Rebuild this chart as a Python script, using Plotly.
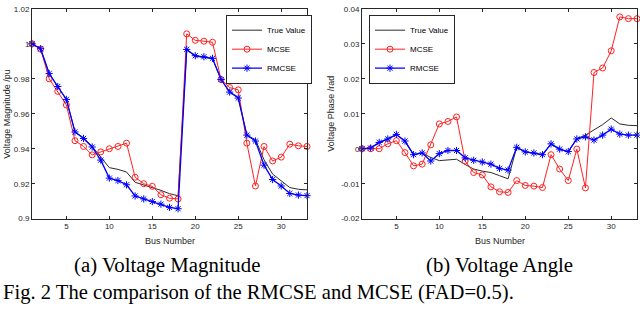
import plotly.graph_objects as go

# ---------------- data ----------------
bus = list(range(1, 34))

true_vm = [1.000, 0.9971, 0.9829, 0.9755, 0.9681, 0.9497, 0.9462, 0.9413, 0.9351, 0.9292,
           0.9282, 0.9267, 0.9208, 0.9193, 0.9178, 0.9162, 0.9143, 0.9131, 0.9965, 0.9929,
           0.9922, 0.9916, 0.9794, 0.9727, 0.9694, 0.9477, 0.9452, 0.9337, 0.9255, 0.9218,
           0.9178, 0.9168, 0.9165]
mcse_vm = [1.000, 0.9970, 0.9800, 0.9728, 0.9650, 0.9446, 0.9413, 0.9365, 0.9382, 0.9400,
           0.9413, 0.9432, 0.9237, 0.9200, 0.9185, 0.9137, 0.9117, 0.9113, 1.0057, 1.0020,
           1.0015, 1.0009, 0.9796, 0.9750, 0.9737, 0.9432, 0.9187, 0.9413, 0.9330, 0.9352,
           0.9426, 0.9417, 0.9413]
rmcse_vm = [1.000, 0.9972, 0.9830, 0.9756, 0.9682, 0.9496, 0.9459, 0.9410, 0.9335, 0.9232,
            0.9218, 0.9194, 0.9130, 0.9113, 0.9098, 0.9083, 0.9065, 0.9057, 0.9968, 0.9932,
            0.9926, 0.9917, 0.9796, 0.9724, 0.9690, 0.9478, 0.9444, 0.9306, 0.9224, 0.9187,
            0.9144, 0.9135, 0.9132]

true_va = [0.0, 0.0002, 0.0017, 0.0027, 0.0040, 0.0021, -0.0017, -0.0012, -0.0025, -0.0034,
           -0.0032, -0.0030, -0.0045, -0.0058, -0.0064, -0.0068, -0.0077, -0.0086, 0.0004, -0.0009,
           -0.0012, -0.0017, 0.0013, -0.0002, -0.0009, 0.0029, 0.0039, 0.0053, 0.0069, 0.0088,
           0.0071, 0.0067, 0.0066]
mcse_va = [0.0, 0.0000, 0.0000, 0.0014, 0.0023, -0.0011, -0.0049, -0.0044, 0.0011, 0.0071,
           0.0078, 0.0091, -0.0035, -0.0068, -0.0075, -0.0109, -0.0123, -0.0125, -0.0091, -0.0105,
           -0.0107, -0.0111, -0.0017, -0.0058, -0.0091, -0.0001, -0.0112, 0.0218, 0.0231, 0.0280,
           0.0377, 0.0372, 0.0372]
rmcse_va = [0.0, 0.0002, 0.0018, 0.0028, 0.0041, 0.0022, -0.0017, -0.0012, -0.0035, -0.0014,
            -0.0005, -0.0005, -0.0026, -0.0033, -0.0038, -0.0044, -0.0056, -0.0061, 0.0004, -0.0009,
            -0.0012, -0.0017, 0.0014, -0.0001, -0.0008, 0.0028, 0.0034, 0.0025, 0.0039, 0.0056,
            0.0042, 0.0039, 0.0039]

x_ticks = [5, 10, 15, 20, 25, 30]
vm_ticks = [0.90, 0.92, 0.94, 0.96, 0.98, 1.00, 1.02]
vm_ticktext = ["0.9", "0.92", "0.94", "0.96", "0.98", "1", "1.02"]
va_ticks = [-0.02, -0.01, 0.0, 0.01, 0.02, 0.03, 0.04]
va_ticktext = ["-0.02", "-0.01", "0", "0.01", "0.02", "0.03", "0.04"]

series_names = ["True Value", "MCSE", "RMCSE"]

# ---------------- figure ----------------
W, H = 640, 315
SANS = "Liberation Sans, Arial, sans-serif"
SERIF = "Liberation Serif, Times New Roman, serif"
AX = "#262626"

fig = go.Figure()


def add_series(xa, ya, legend, ys):
    styles = [
        dict(mode="lines", line=dict(color="#2b2b2b", width=1)),
        dict(mode="lines+markers", line=dict(color="#ff2020", width=1),
             marker=dict(symbol="circle-open", size=6, color="#ff2020",
                         line=dict(color="#ff2020", width=1))),
        dict(mode="lines+markers", line=dict(color="#0000ff", width=1.3),
             marker=dict(symbol="asterisk-open", size=6, color="#0000ff",
                         line=dict(color="#0000ff", width=1))),
    ]
    for name, y, st in zip(series_names, ys, styles):
        fig.add_trace(go.Scatter(x=bus, y=y, name=name, xaxis=xa, yaxis=ya,
                                 legend=legend, cliponaxis=False, **st))


add_series("x", "y", "legend", [true_vm, mcse_vm, rmcse_vm])
add_series("x2", "y2", "legend2", [true_va, mcse_va, rmcse_va])

top = 1 - 5 / H
bot = 1 - 221 / H

common_axis = dict(showline=True, linecolor=AX, linewidth=1, mirror="ticks",
                   ticks="inside", ticklen=3, tickcolor=AX, showgrid=False,
                   zeroline=False, tickfont=dict(family=SANS, size=8, color=AX))

legend_common = dict(xanchor="left", yanchor="top", bgcolor="white",
                     bordercolor=AX, borderwidth=1,
                     font=dict(family=SANS, size=8, color="black"),
                     itemwidth=30, tracegroupgap=0)

fig.update_layout(
    width=W, height=H,
    margin=dict(l=0, r=0, t=0, b=0),
    paper_bgcolor="white", plot_bgcolor="white",
    font=dict(family=SANS, color=AX),
    xaxis=dict(domain=[32 / W, 307 / W], range=[1, 33], tickvals=x_ticks,
               anchor="y", **common_axis),
    yaxis=dict(domain=[bot, top], range=[0.9, 1.02], tickvals=vm_ticks,
               ticktext=vm_ticktext, anchor="x", **common_axis),
    xaxis2=dict(domain=[362 / W, 637 / W], range=[1, 33], tickvals=x_ticks,
                anchor="y2", **common_axis),
    yaxis2=dict(domain=[bot, top], range=[-0.02, 0.04], tickvals=va_ticks,
                ticktext=va_ticktext, anchor="x2", **common_axis),
    legend=dict(x=226 / W, y=1 - 11 / H, **legend_common),
    legend2=dict(x=369 / W, y=1 - 11 / H, **legend_common),
    showlegend=True,
)

ann = [
    dict(text="Bus Number", x=169.5 / W, y=1 - 243.5 / H, size=9, family=SANS, angle=0),
    dict(text="Bus Number", x=499.5 / W, y=1 - 243.5 / H, size=9, family=SANS, angle=0),
    dict(text="Voltage Magnitude /pu", x=7 / W, y=1 - 113 / H, size=9, family=SANS, angle=-90),
    dict(text="Voltage Phase /rad", x=331 / W, y=1 - 113 / H, size=9, family=SANS, angle=-90),
    dict(text="(a) Voltage Magnitude", x=167 / W, y=1 - 269 / H, size=20.8, family=SERIF, angle=0),
    dict(text="(b) Voltage Angle", x=499.7 / W, y=1 - 269 / H, size=20.8, family=SERIF, angle=0),
]
for a in ann:
    fig.add_annotation(text=a["text"], x=a["x"], y=a["y"], xref="paper", yref="paper",
                       xanchor="center", yanchor="middle", showarrow=False,
                       textangle=a["angle"],
                       font=dict(family=a["family"], size=a["size"],
                                 color=AX if a["family"] == SANS else "black"))

fig.add_annotation(text="Fig. 2 The comparison of the RMCSE and MCSE (FAD=0.5).",
                   x=1 / W, y=1 - 297 / H, xref="paper", yref="paper",
                   xanchor="left", yanchor="middle", showarrow=False,
                   font=dict(family=SERIF, size=20.6, color="black"))

fig.write_html("out.html", config={"displayModeBar": False})

# remove the default page margin so the figure sits at the window origin
with open("out.html", "r", encoding="utf-8") as f:
    html = f.read()
html = html.replace("<body>", '<body style="margin:0;padding:0;overflow:hidden">', 1)
with open("out.html", "w", encoding="utf-8") as f:
    f.write(html)
